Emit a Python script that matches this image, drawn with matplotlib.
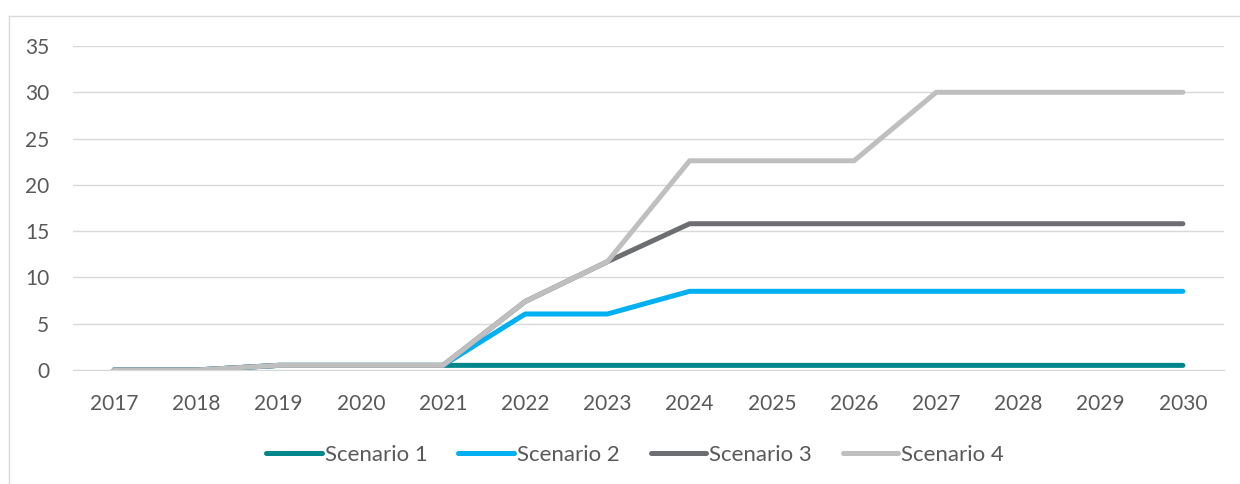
import matplotlib.pyplot as plt
from matplotlib.lines import Line2D

anos = [2017, 2018, 2019, 2020, 2021, 2022, 2023, 2024, 2025, 2026, 2027, 2028, 2029, 2030]
cenario1 = [0, 0, 0.5, 0.5, 0.5, 0.5, 0.5, 0.5, 0.5, 0.5, 0.5, 0.5, 0.5, 0.5]
cenario2 = [0, 0, 0.5, 0.5, 0.5, 6.05, 6.05, 8.5, 8.5, 8.5, 8.5, 8.5, 8.5, 8.5]
cenario3 = [0, 0, 0.5, 0.5, 0.5, 7.4, 11.7, 15.8, 15.8, 15.8, 15.8, 15.8, 15.8, 15.8]
cenario4 = [0, 0, 0.5, 0.5, 0.5, 7.4, 11.7, 22.6, 22.6, 22.6, 30, 30, 30, 30]
nomes = ['Scenario 1', 'Scenario 2', 'Scenario 3', 'Scenario 4']
cores = ['#00868B', '#00B0F0', '#6D6E71', '#BFBFBF']

plt.rcParams['font.family'] = ['Lato', 'DejaVu Sans']

fig = plt.figure(figsize=(12.4, 4.84), dpi=100)
ax = fig.add_axes([73 / 1240, 1 - 370 / 484, (1224 - 73) / 1240, (370 - 46) / 484])

# moldura externa do gráfico
fig.add_artist(Line2D([9 / 1240, 9 / 1240], [0, 1 - 16 / 484], transform=fig.transFigure,
                      color='#D9D9D9', linewidth=1))
fig.add_artist(Line2D([9 / 1240, 1], [1 - 16 / 484, 1 - 16 / 484], transform=fig.transFigure,
                      color='#D9D9D9', linewidth=1))

x = list(range(len(anos)))
for serie, nome, cor in zip([cenario1, cenario2, cenario3, cenario4], nomes, cores):
    ax.plot(x, serie, color=cor, linewidth=3.6, label=nome,
            solid_capstyle='round', solid_joinstyle='round', zorder=3)

ax.set_xlim(-0.5, len(anos) - 0.5)
ax.set_ylim(0, 35)
ax.set_yticks(range(0, 36, 5))
ax.set_xticks(x)
ax.set_xticklabels([str(a) for a in anos])
ax.grid(True, axis='y', color='#D9D9D9', linewidth=1)
ax.set_axisbelow(True)
for lado in ['top', 'right', 'left']:
    ax.spines[lado].set_visible(False)
ax.spines['bottom'].set_color('#D9D9D9')
ax.tick_params(length=0, labelsize=15, labelcolor='#595959')
ax.tick_params(axis='y', pad=17)
ax.tick_params(axis='x', pad=17)

leg = ax.legend(loc='center', bbox_to_anchor=(635 / 1240, 1 - 455 / 484),
                bbox_transform=fig.transFigure, ncol=4, frameon=False,
                fontsize=16, handlelength=2.5, handletextpad=0.12, columnspacing=1.4)
for t in leg.get_texts():
    t.set_color('#595959')

plt.savefig('out.png', dpi=100)
